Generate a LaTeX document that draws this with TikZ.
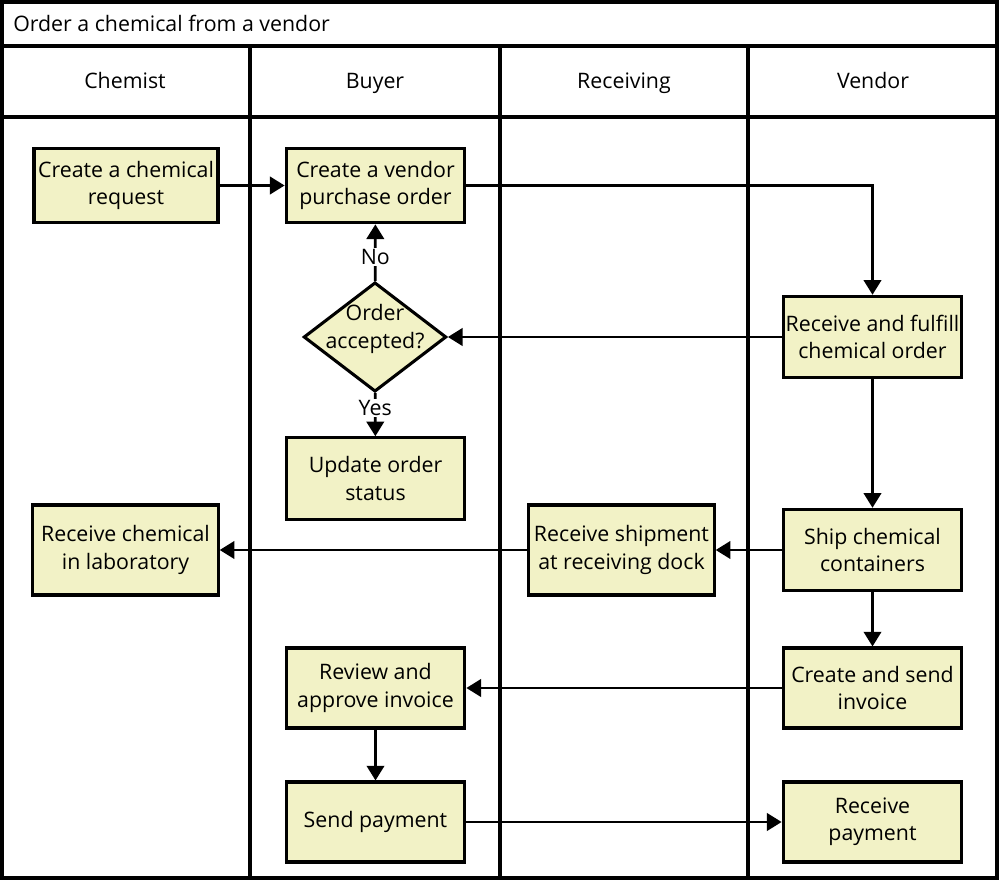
\documentclass[tikz,border=0pt]{standalone}
\usepackage{fontspec}
\setmainfont{Open Sans}
\usepackage{tikz}
\usetikzlibrary{arrows.meta}
\usetikzlibrary{shapes.geometric}
\definecolor{boxfill}{RGB}{242,242,198}
\tikzset{l/.style={font=\fontsize{16}{20.5}\selectfont}}
\tikzset{act/.style={l, draw, line width=2.3pt, fill=boxfill, align=center, inner sep=0pt, minimum width=134pt, minimum height=60pt}}
\tikzset{dec/.style={draw, diamond, line width=2.3pt, fill=boxfill, inner sep=0pt, minimum width=107pt, minimum height=82pt}}
\tikzset{w/.style={line width=2.1pt}}
\tikzset{frame/.style={line width=2.3pt}}

\begin{document}
\begin{tikzpicture}[x=0.75pt, y=-0.75pt, >={Triangle[length=11pt,width=13pt]}]
        \useasboundingbox (0,0) rectangle (1000,880);
        % pool and lanes
        \draw [frame] (2,2) rectangle (997,878);
        \draw [frame] (2,46) -- (997,46);
        \draw [frame] (2,117) -- (997,117);
        \foreach \x in {250,500,748}
          \draw [frame] (\x,46) -- (\x,878);
        \node [l, anchor=base west, inner sep=0pt] (title) at (13,32) {Order a chemical from a vendor};
        \node [l, anchor=base] (chemist) at (125,89) {Chemist};
        \node [l, anchor=base] (buyer) at (375,89) {Buyer};
        \node [l, anchor=base] (receiving) at (624,89) {Receiving};
        \node [l, anchor=base] (vendor) at (873,89) {Vendor};
        % steps
        \node [act, minimum height=56pt] (po) at (375.5,185.5) {Create a vendor\\purchase order};
        \node [act, minimum width=138pt, minimum height=56pt] (req) at (126,185.5) {Create a chemical\\request}
          edge [w, ->] (po);
        \node [act, minimum height=61pt] (upd) at (375.5,478.5) {Update order\\status};
        \node [dec, label={[l, align=center, yshift=6pt]center:Order\\accepted?}] (acc) at (375,337) {}
          edge [w, ->] node [l, fill=white, inner sep=1pt, pos=0.43] {No} (po)
          edge [w, ->] node [l, fill=white, inner sep=1pt, pos=0.35] {Yes} (upd);
        \node [act, minimum height=61pt] (ful) at (872.5,337) {Receive and fulfill\\chemical order}
          edge [w, ->] (acc);
        \draw [w, ->] (po) -| (ful);
        \node [act, minimum width=139pt, minimum height=67.5pt] (lab) at (125.5,550) {Receive chemical\\in laboratory};
        \node [act, minimum width=139pt, minimum height=67.5pt] (dock) at (621.5,550) {Receive shipment\\at receiving dock}
          edge [w, ->] (lab);
        \node [act, minimum height=61pt] (ship) at (872.5,550) {Ship chemical\\containers}
          edge [w, ->] (dock)
          edge [w, <-] (ful);
        \node [act] (rev) at (375.5,688) {Review and\\approve invoice};
        \node [act] (inv) at (872.5,688) {Create and send\\invoice}
          edge [w, ->] (rev)
          edge [w, <-] (ship);
        \node [act] (rpay) at (872.5,822) {Receive\\payment};
        \node [act] (pay) at (375.5,822) {Send payment}
          edge [w, ->] (rpay)
          edge [w, <-] (rev);
      \end{tikzpicture}
\end{document}
